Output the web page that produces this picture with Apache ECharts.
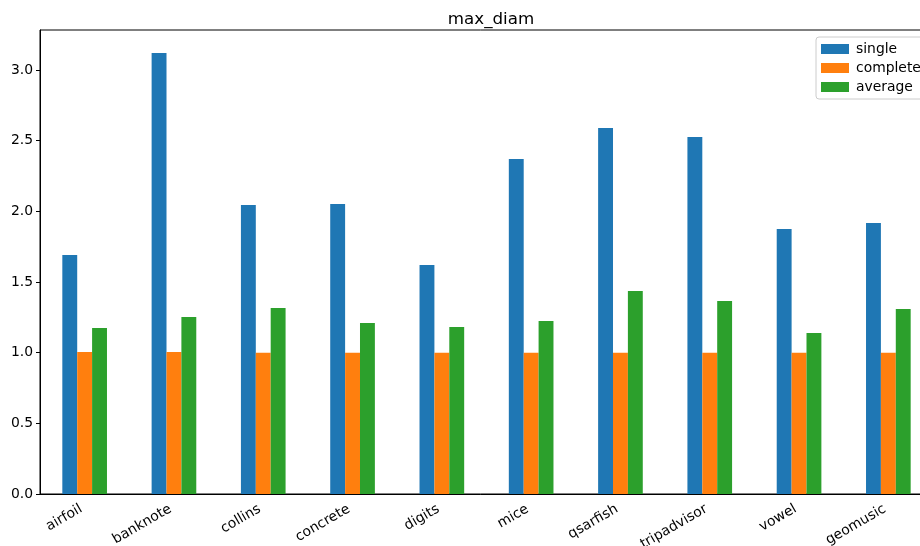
<!DOCTYPE html>
<html>
<head>
<meta charset="utf-8">
<script src="https://cdn.jsdelivr.net/npm/echarts@6/dist/echarts.min.js"></script>
<style>html,body{margin:0;padding:0;background:#fff}#c{width:920px;height:546px}</style>
</head>
<body>
<div id="c"></div>
<script>
var categories = ['airfoil','banknote','collins','concrete','digits','mice','qsarfish','tripadvisor','vowel','geomusic'];
var single   = [1.691, 3.120, 2.045, 2.052, 1.620, 2.370, 2.590, 2.526, 1.875, 1.918];
var complete = [1.005, 1.005, 1.000, 1.000, 1.000, 1.000, 1.000, 1.000, 1.000, 1.000];
var average  = [1.175, 1.252, 1.316, 1.210, 1.182, 1.224, 1.436, 1.366, 1.139, 1.309];
var yTicks = [0, 0.5, 1.0, 1.5, 2.0, 2.5, 3.0];
var seriesNames = ['single','complete','average'];
var colors = ['#1f77b4','#ff7f0e','#2ca02c'];

var font = 'DejaVu Sans';
var chart = echarts.init(document.getElementById('c'), null, {renderer:'canvas'});
function mk(name, data, color){
  return {name:name, type:'bar', data:data, barWidth:'16.67%', barGap:'0%',
          itemStyle:{color:color}, emphasis:{disabled:true}};
}
chart.setOption({
  animation:false,
  backgroundColor:'#fff',
  title:{text:'max_diam', left:486, textAlign:'center', top:6,
         textStyle:{fontFamily:font, fontSize:16.7, fontWeight:'normal', color:'#000'}},
  legend:{data:seriesNames, orient:'vertical', left:816, top:37,
          itemWidth:28, itemHeight:10, itemGap:5, padding:[5,40,5,5],
          borderColor:'#cccccc', borderWidth:1, borderRadius:3, backgroundColor:'rgba(255,255,255,0.8)',
          icon:'rect',
          textStyle:{fontFamily:font, fontSize:13.9, color:'#000', lineHeight:14, padding:[0,0,0,2]}},
  grid:{left:40, width:893, top:30, height:464, show:true, borderColor:'#000', borderWidth:1,
        containLabel:false, outerBoundsMode:'none'},
  xAxis:{type:'category', data:categories, boundaryGap:true,
         axisLine:{lineStyle:{color:'#000', width:1}},
         axisTick:{alignWithLabel:true, length:4, lineStyle:{color:'#000'}},
         axisLabel:{rotate:30, interval:0, margin:12, padding:[0,4,0,0], fontFamily:font, fontSize:13.9, color:'#000'}},
  yAxis:{type:'value', min:0, max:3.283, interval:0.5,
         splitLine:{show:false},
         axisLine:{show:true, lineStyle:{color:'#000', width:1}},
         axisTick:{show:true, length:4, lineStyle:{color:'#000'}, customValues:yTicks},
         axisLabel:{fontFamily:font, fontSize:13.9, color:'#000', margin:7, customValues:yTicks,
                    formatter:function(v){return v.toFixed(1);}}},
  series:[mk(seriesNames[0], single, colors[0]), mk(seriesNames[1], complete, colors[1]), mk(seriesNames[2], average, colors[2])]
});
</script>
</body>
</html>
